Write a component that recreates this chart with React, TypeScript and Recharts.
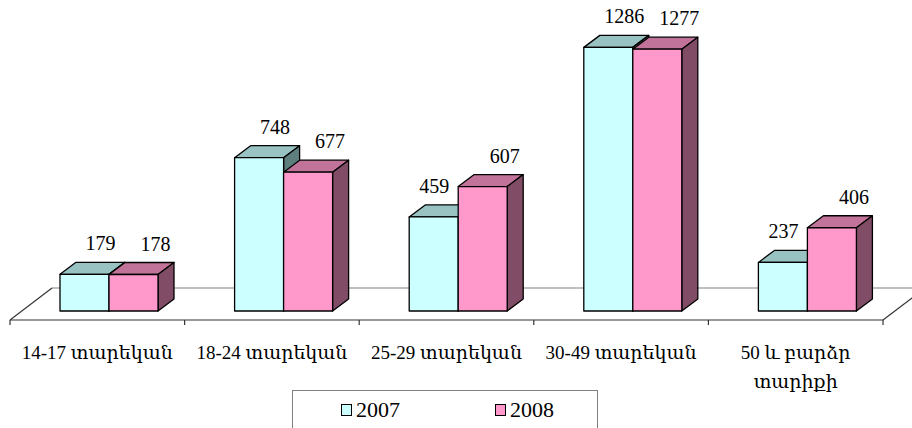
import { BarChart, Bar, XAxis, YAxis, ReferenceArea, Legend, LabelList } from 'recharts';

const categories = ['14-17 տարեկան', '18-24 տարեկան', '25-29 տարեկան', '30-49 տարեկան', '50 և բարձր\nտարիքի'];
const values2007 = [179, 748, 459, 1286, 237];
const values2008 = [178, 677, 607, 1277, 406];
const seriesNames = ['2007', '2008'];

const data = categories.map((name, i) => ({ name, v2007: values2007[i], v2008: values2008[i] }));

const FONT = "'Liberation Serif', 'DejaVu Serif', serif";
const cyan = { front: '#CCFFFF', top: '#99C2C2', side: '#5F7F7F' };
const pink = { front: '#FF99CC', top: '#C27399', side: '#804C66' };

// bar depth and where bars sit on the floor
const DX = 16;
const DY = 12;
const SHIFT_X = 12;
const SHIFT_Y = 9;
// floor depth
const FDX = 42;
const FDY = 32;

const makeBox = (c: { front: string; top: string; side: string }) => (props: any) => {
  const { x, y, width: w, height: h } = props;
  const fx = x + SHIFT_X;
  const fy = y - SHIFT_Y;
  return (
    <g stroke="#000" strokeWidth={1.3} strokeLinejoin="round">
      <polygon points={`${fx},${fy} ${fx + DX},${fy - DY} ${fx + w + DX},${fy - DY} ${fx + w},${fy}`} fill={c.top} />
      <polygon points={`${fx + w},${fy} ${fx + w + DX},${fy - DY} ${fx + w + DX},${fy + h - DY} ${fx + w},${fy + h}`} fill={c.side} />
      <rect x={fx} y={fy} width={w} height={h} fill={c.front} />
    </g>
  );
};

// label for first series slides left when the neighbouring bar is taller
const makeLabel = (offset: number, first: boolean) => (props: any) => {
  const vb = props.viewBox && props.viewBox.width != null ? props.viewBox : props;
  const { x, y, width } = vb;
  let cx = x + SHIFT_X + width / 2 + offset;
  if (first) {
    const i = props.index;
    if (i != null && values2008[i] > values2007[i]) {
      cx = Math.min(cx, x + SHIFT_X + width - 24);
    }
  }
  return (
    <text x={cx} y={y - SHIFT_Y - DY - 19} textAnchor="middle"
      dominantBaseline="central" fontSize={20} fontFamily={FONT} fill="#000">
      {props.value}
    </text>
  );
};

const Floor = (props: any) => {
  const { x, y, width, height } = props;
  const by = y + height;
  const ticks = [0, 1, 2, 3, 4, 5].map((i) => x + (i * width) / 5);
  return (
    <g>
      <polygon points={`${x},${by} ${x + width},${by} ${x + width + FDX},${by - FDY} ${x + FDX},${by - FDY}`}
        fill="#fff" stroke="none" />
      <line x1={x + FDX} y1={by - FDY} x2={x + width + FDX} y2={by - FDY} stroke="#808080" strokeWidth={1.2} />
      <line x1={x} y1={by} x2={x + FDX} y2={by - FDY} stroke="#333" strokeWidth={1.2} />
      <line x1={x + width} y1={by} x2={x + width + FDX} y2={by - FDY} stroke="#333" strokeWidth={1.2} />
      {ticks.map((tx, i) => (
        <line key={i} x1={tx} y1={by} x2={tx} y2={by + 5} stroke="#333" strokeWidth={1.2} />
      ))}
    </g>
  );
};

const CategoryTick = (props: any) => {
  const { x, y, payload } = props;
  const lines = String(payload.value).split('\n');
  return (
    <g>
      {lines.map((l, i) => (
        <text key={i} x={x} y={y + 32 + i * 29} textAnchor="middle" dominantBaseline="central"
          fontSize={19} fontFamily={FONT} fill="#000">
          {l}
        </text>
      ))}
    </g>
  );
};

const LegendBox = () => (
  <div style={{ position: 'relative', width: 306, height: 50, border: '1px solid #808080', boxSizing: 'border-box', fontFamily: FONT, fontSize: 22 }}>
    {seriesNames.map((s, i) => (
      <div key={s} style={{ position: 'absolute', left: i === 0 ? 48 : 202, top: 6, display: 'flex', alignItems: 'center', lineHeight: '26px' }}>
        <span style={{ display: 'inline-block', width: 9, height: 10, border: '1.3px solid #000', background: i === 0 ? cyan.front : pink.front, marginRight: 4 }} />
        <span>{s}</span>
      </div>
    ))}
  </div>
);

export default function App() {
  return (
    <div style={{ position: 'absolute', left: 0, top: 0, background: '#fff' }}>
      <BarChart width={912} height={428} data={data} barSize={49} barGap={0}
        margin={{ top: 33, right: 29, left: 10, bottom: 48 }} style={{ fontFamily: FONT }}>
        <YAxis hide domain={[0, 1400]} />
        <ReferenceArea y1={0} y2={1400} shape={<Floor />} />
        <XAxis dataKey="name" interval={0} height={60} tickLine={false} tickSize={0} tickMargin={0}
          axisLine={{ stroke: '#333', strokeWidth: 1.2 }} tick={<CategoryTick />} />
        <Bar dataKey="v2007" name={seriesNames[0]} fill={cyan.front} shape={makeBox(cyan)} isAnimationActive={false}>
          <LabelList dataKey="v2007" content={makeLabel(16, true)} />
        </Bar>
        <Bar dataKey="v2008" name={seriesNames[1]} fill={pink.front} shape={makeBox(pink)} isAnimationActive={false}>
          <LabelList dataKey="v2008" content={makeLabel(22, false)} />
        </Bar>
        <Legend layout="horizontal" verticalAlign="middle" align="center" content={<LegendBox />}
          wrapperStyle={{ top: 390, left: 292, width: 306, height: 50 }} />
      </BarChart>
    </div>
  );
}
